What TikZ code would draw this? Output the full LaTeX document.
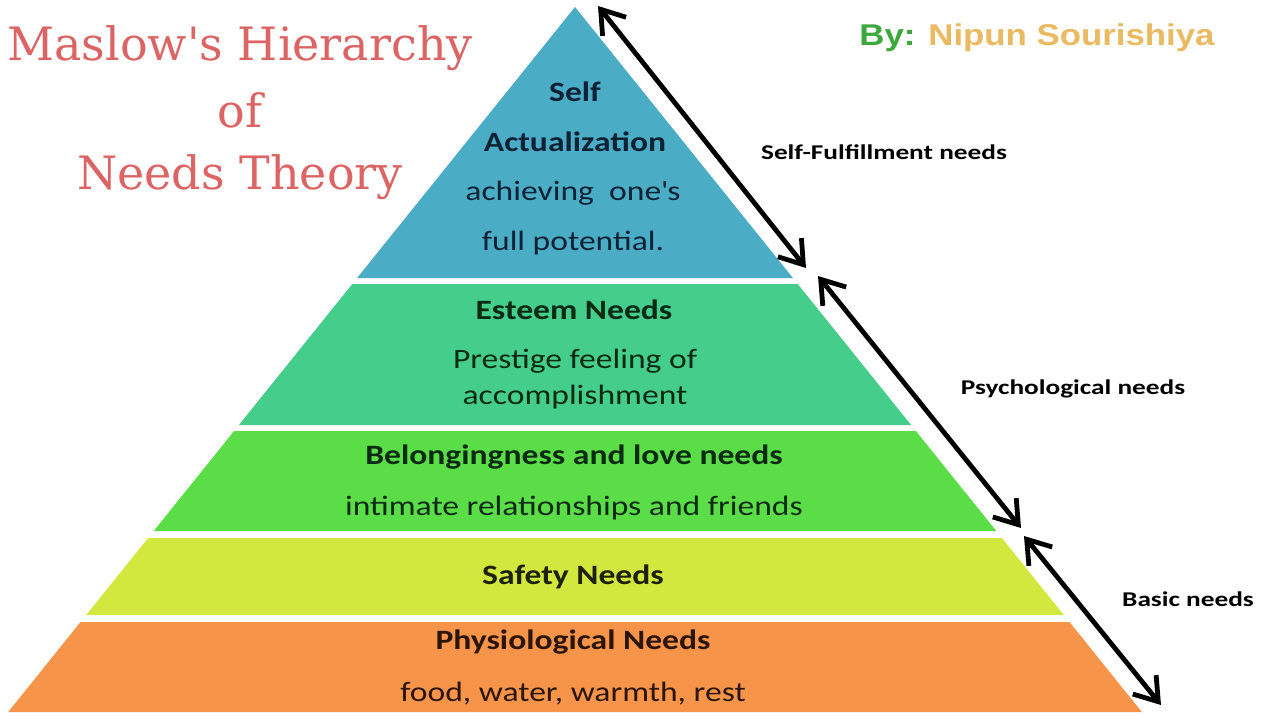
\documentclass[tikz,border=0pt]{standalone}
\usepackage{fontspec}
\setmainfont{Carlito}[FakeStretch=1.2]
\newfontfamily\sidefont{Carlito}[FakeStretch=1.3]
\newfontfamily\titlefont{DejaVu Serif}
\newfontfamily\byfont{Liberation Sans}[FakeStretch=1.16]
\usetikzlibrary{arrows.meta}
\definecolor{cSelf}{HTML}{4BACC6}
\definecolor{cEsteem}{HTML}{45CD8C}
\definecolor{cBelong}{HTML}{5ADD47}
\definecolor{cSafety}{HTML}{D2E83E}
\definecolor{cPhys}{HTML}{F6944A}
\definecolor{tSelf}{HTML}{0E2236}
\definecolor{tGreen}{HTML}{0B2A14}
\definecolor{tSafety}{HTML}{1C2208}
\definecolor{tPhys}{HTML}{2A1508}
\definecolor{titleRed}{HTML}{DD6464}
\definecolor{byGreen}{HTML}{3CA83C}
\definecolor{byGold}{HTML}{E9BA62}
\tikzset{
  head/.style={font=\fontsize{28}{30}\selectfont\bfseries},
  body/.style={font=\fontsize{28}{30}\selectfont},
  side/.style={font=\fontsize{21}{23}\selectfont\sidefont\bfseries, text=black},
  twoway/.style={line width=4.8pt, draw=black,
    {Straight Barb[length=22pt,width=30pt,line width=4.8pt]}-{Straight Barb[length=22pt,width=30pt,line width=4.8pt]}},
  titletext/.style={font=\fontsize{46}{50}\selectfont\titlefont, text=titleRed}
}
\begin{document}
\begin{tikzpicture}[x=1pt,y=-1pt]
\useasboundingbox[fill=white] (0,0) rectangle (1280,720);
% pyramid bands
\fill[cSelf]   (575,7) -- (792.9,278) -- (357.1,278) -- cycle;
\fill[cEsteem] (352.3,284) -- (797.7,284) -- (911.1,425) -- (238.9,425) -- cycle;
\fill[cBelong] (234.1,431) -- (915.9,431) -- (996.3,531) -- (153.7,531) -- cycle;
\fill[cSafety] (148.1,538) -- (1001.9,538) -- (1063.8,615) -- (86.2,615) -- cycle;
\fill[cPhys]   (80.5,622) -- (1069.5,622) -- (1141.8,712) -- (8.2,712) -- cycle;
% texts in pyramid
\node[head, text=tSelf] (self) at (575,92) {Self};
\node[head, text=tSelf] (actual) at (575,142) {Actualization};
\node[body, text=tSelf] (achieve) at (573,193) {achieving\ \ one\textquotesingle s};
\node[body, text=tSelf] (fullpot) at (573,243) {full potential.};
\node[head, text=tGreen] (esteem) at (574,310) {Esteem Needs};
\node[body, text=tGreen] (prestige) at (575,361) {Prestige feeling of};
\node[body, text=tGreen] (accomp) at (575,397) {accomplishment};
\node[head, text=tGreen] (belong) at (574,457) {Belongingness and love needs};
\node[body, text=tGreen] (intimate) at (574,508) {intimate relationships and friends};
\node[head, text=tSafety] (safety) at (573,577) {Safety Needs};
\node[head, text=tPhys] (phys) at (573,642) {Physiological Needs};
\node[body, text=tPhys] (food) at (573,694) {food, water, warmth, rest};
% side arrows
\coordinate (a1s) at (598,6);
\coordinate (a1e) at (806,268);
\coordinate (a2s) at (818,276);
\coordinate (a2e) at (1021,528);
\coordinate (a3s) at (1024,536);
\coordinate (a3e) at (1161,705);
\draw[twoway] (a1s) -- (a1e);
\draw[twoway] (a2s) -- (a2e);
\draw[twoway] (a3s) -- (a3e);
\node[side] (selfful) at (884,152) {Self-Fulfillment needs};
\node[side] (psych) at (1073,389) {Psychological needs};
\node[side] (basic) at (1188,599) {Basic needs};
% title
\node[titletext] (t1) at (240,48) {Maslow\textquotesingle s Hierarchy};
\node[titletext] (t2) at (240,110) {of};
\node[titletext] (t3) at (240,177) {Needs Theory};
% author
\node[font=\fontsize{30}{32}\selectfont\byfont\bfseries] (by) at (1037,38)
  {\textcolor{byGreen}{By:} \textcolor{byGold}{Nipun Sourishiya}};
\end{tikzpicture}
\end{document}
